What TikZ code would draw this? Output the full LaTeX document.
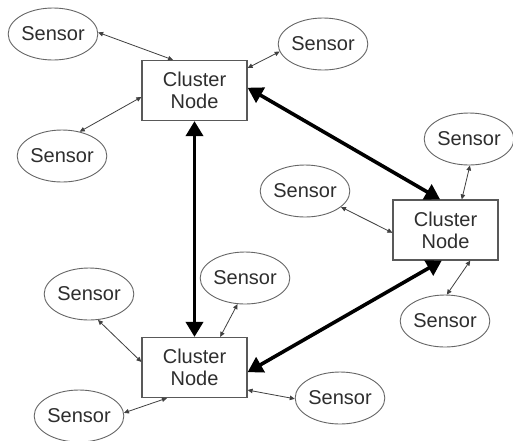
\documentclass[tikz,border=0pt]{standalone}
\usepackage{fontspec}
\setmainfont{Liberation Sans}
\usetikzlibrary{shapes.geometric,arrows.meta}
\begin{document}
\begin{tikzpicture}[x=1pt,y=-1pt,
  sensor/.style={ellipse,draw=black!60,line width=0.9pt,minimum width=88pt,minimum height=52pt,inner sep=0pt,text=black!82,font=\fontsize{20}{22}\selectfont},
  cluster/.style={rectangle,draw=black!65,line width=1.2pt,minimum width=105pt,minimum height=60pt,inner sep=0pt,align=center,text=black!82,font=\fontsize{20}{22}\selectfont},
  thin/.style={draw=black!75,line width=0.8pt,{Triangle[length=5pt,width=4.5pt]}-{Triangle[length=5pt,width=4.5pt]}},
  thick/.style={draw=black,line width=3.6pt,{Triangle[length=15pt,width=17pt]}-{Triangle[length=15pt,width=17pt]}}
]
\useasboundingbox (0,0) rectangle (513,440);
\fill[white] (0,0) rectangle (513,440);

\node[cluster] (C1) at (194.5,90.5) {Cluster\\Node};
\node[cluster] (C2) at (445.5,230) {Cluster\\Node};
\node[cluster] (C3) at (194.5,367.5) {Cluster\\Node};

\node[sensor] (S1) at (53,34) {Sensor};
\node[sensor] (S2) at (323,44) {Sensor};
\node[sensor] (S3) at (62,156) {Sensor};
\node[sensor,minimum width=86pt] (S4) at (469,139) {Sensor};
\node[sensor] (S5) at (305,191) {Sensor};
\node[sensor] (S6) at (445,321) {Sensor};
\node[sensor] (S7) at (89,294) {Sensor};
\node[sensor,minimum width=86pt] (S8) at (245,278) {Sensor};
\node[sensor] (S9) at (79,416) {Sensor};
\node[sensor] (S10) at (340,398) {Sensor};

\draw[thick] (C1.south) -- (C3.north);
\draw[thick] (C1.3) -- (C2.100);
\draw[thick] (C3.355) -- (C2.263);

\draw[thin] (S1.2) -- (C1.125);
\draw[thin] (S2.190) -- (C1.23);
\draw[thin] (S3.54) -- (C1.187);
\draw[thin] (S5.336) -- (C2.183);
\draw[thin] (S4.272) -- (C2.62);
\draw[thin] (C2.309) -- (S6.86);
\draw[thin] (S7.289) -- (C3.174);
\draw[thin] (S8.254) -- (C3.50);
\draw[thin] (S9.4) -- (C3.228);
\draw[thin] (C3.337) -- (S10.181);
\end{tikzpicture}
\end{document}
